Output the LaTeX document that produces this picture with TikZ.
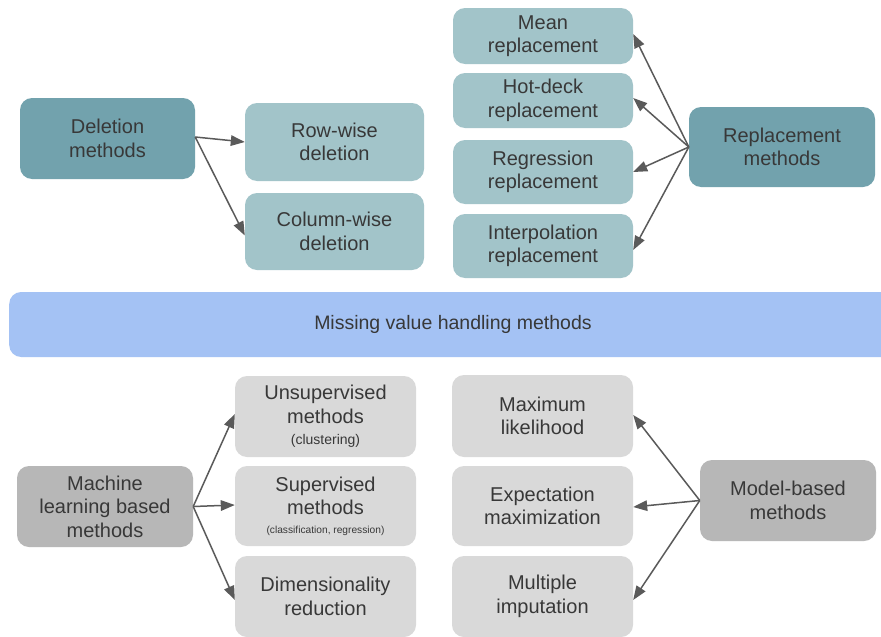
\documentclass[tikz,border=0pt]{standalone}
\usepackage{fontspec}
\setmainfont{Liberation Sans}
\usetikzlibrary{arrows.meta}
\definecolor{tealdark}{HTML}{72A2AD}
\definecolor{teallight}{HTML}{A2C4C9}
\definecolor{barblue}{HTML}{A4C2F4}
\definecolor{graylight}{HTML}{D9D9D9}
\definecolor{graydark}{HTML}{B7B7B7}
\definecolor{txt}{HTML}{383838}
\definecolor{arr}{HTML}{5A5A5A}
\tikzset{
  box/.style={rounded corners=12pt, draw=none, text=txt, align=center,
    inner sep=0pt, font=\fontsize{20}{23.5}\selectfont},
  dteal/.style={box, fill=tealdark},
  lteal/.style={box, fill=teallight},
  dgray/.style={box, fill=graydark},
  lgray/.style={box, fill=graylight},
  con/.style={draw=arr, line width=1.5pt, -{Triangle[length=14pt,width=10.5pt]}},
}
\begin{document}
\begin{tikzpicture}[x=1pt,y=-1pt]
\useasboundingbox (0,0) rectangle (881,637);
\fill[white] (0,0) rectangle (881,637);
% top-left group
\node[dteal, minimum width=175pt, minimum height=81pt] (del) at (107.5,138.5) {Deletion\\methods};
\node[lteal, minimum width=179pt, minimum height=78pt] (row) at (334.5,142) {Row-wise\\deletion};
\node[lteal, minimum width=179pt, minimum height=77pt] (col) at (334.5,231.5) {Column-wise\\deletion};
% top-right group
\node[lteal, minimum width=180pt, minimum height=56pt] (mean) at (543,36) {Mean\\replacement};
\node[lteal, minimum width=180pt, minimum height=55pt] (hot) at (543,100.5) {Hot-deck\\replacement};
\node[lteal, minimum width=180pt, minimum height=64pt] (reg) at (543,172) {Regression\\replacement};
\node[lteal, minimum width=180pt, minimum height=64pt] (interp) at (543,246) {Interpolation\\replacement};
\node[dteal, minimum width=186pt, minimum height=80pt] (repl) at (782,147) {Replacement\\methods};
% middle bar
\node[box, fill=barblue, minimum width=890pt, minimum height=65pt, anchor=west] (bar) at (9,324.5) {};
\node[text=txt, font=\fontsize{19.5}{23}\selectfont, inner sep=0pt] (bartext) at (453,324.5) {Missing value handling methods};
% bottom-left group
\node[dgray, minimum width=176pt, minimum height=81pt] (ml) at (105,506.5) {Machine\\learning based\\methods};
\node[lgray, minimum width=181pt, minimum height=81pt] (uns) at (325.5,416.5) {Unsupervised\\methods\\[-2pt]{\fontsize{14}{15}\selectfont (clustering)}};
\node[lgray, minimum width=181pt, minimum height=80pt] (sup) at (325.5,506) {Supervised\\methods\\[-5pt]{\fontsize{10.2}{12}\selectfont (classification, regression)}};
\node[lgray, minimum width=181pt, minimum height=81pt] (dim) at (325.5,596.5) {Dimensionality\\reduction};
% bottom-right group
\node[lgray, minimum width=181pt, minimum height=82pt] (mlk) at (542.5,416) {Maximum\\likelihood};
\node[lgray, minimum width=181pt, minimum height=80pt] (em) at (542.5,506) {Expectation\\maximization};
\node[lgray, minimum width=181pt, minimum height=81pt] (mi) at (542.5,596.5) {Multiple\\imputation};
\node[dgray, minimum width=176pt, minimum height=81pt] (mb) at (788,500.5) {Model-based\\methods};
% connectors
\coordinate (ds) at ([yshift=1.5pt]del.east);
\draw[con] (ds) -- (row.west);
\draw[con] (ds) -- ([yshift=-4pt]col.west);
\draw[con] (repl.west) -- ([yshift=2pt]mean.east);
\draw[con] (repl.west) -- ([yshift=2.5pt]hot.east);
\draw[con] (repl.west) -- (reg.east);
\draw[con] (repl.west) -- ([yshift=-4pt]interp.east);
\draw[con] (ml.east) -- ([yshift=2.5pt]uns.west);
\draw[con] (ml.east) -- ([yshift=1pt]sup.west);
\draw[con] (ml.east) -- ([yshift=-3.5pt]dim.west);
\draw[con] (mb.west) -- ([yshift=1pt]mlk.east);
\draw[con] (mb.west) -- ([yshift=-1pt]em.east);
\draw[con] (mb.west) -- ([yshift=-3.5pt]mi.east);
\end{tikzpicture}
\end{document}
